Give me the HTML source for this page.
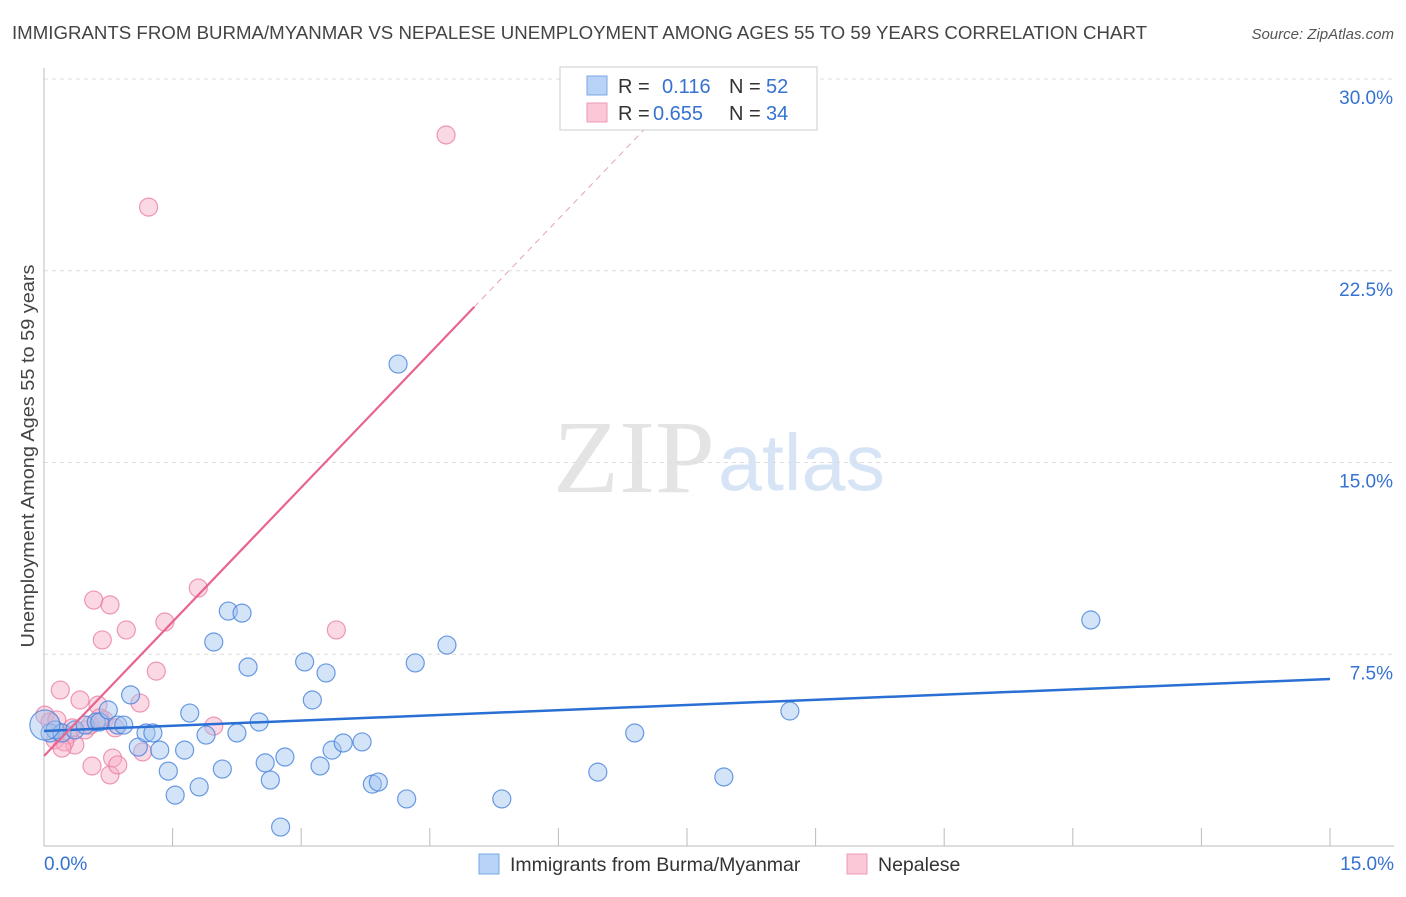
<!DOCTYPE html>
<html><head><meta charset="utf-8"><style>
body{margin:0;background:#fff;font-family:"Liberation Sans",sans-serif;}
</style></head><body>
<svg id="chart" width="1406" height="892" xmlns="http://www.w3.org/2000/svg" font-family="Liberation Sans, sans-serif">
<text x="12" y="39" font-size="18" fill="#444" textLength="1135" lengthAdjust="spacingAndGlyphs">IMMIGRANTS FROM BURMA/MYANMAR VS NEPALESE UNEMPLOYMENT AMONG AGES 55 TO 59 YEARS CORRELATION CHART</text>
<text x="1394" y="39" font-size="15" fill="#555" font-style="italic" text-anchor="end">Source: ZipAtlas.com</text>
<text x="34" y="456" font-size="18.5" fill="#444" text-anchor="middle" textLength="383" lengthAdjust="spacingAndGlyphs" transform="rotate(-90 34 456)">Unemployment Among Ages 55 to 59 years</text>
<g>
<text x="553" y="492" font-size="104" fill="#e4e4e4" style="font-family:'Liberation Serif',serif" textLength="162" lengthAdjust="spacingAndGlyphs">ZIP</text>
<text x="718" y="490" font-size="80" fill="#d6e4f6" textLength="167" lengthAdjust="spacingAndGlyphs">atlas</text>
</g>
<g id="grid"></g>
<g id="axes"></g>
<g id="marks"></g>
<g>
<rect x="560" y="67" width="257" height="63" fill="#fff" stroke="#ccc"/>
<rect x="587" y="76" width="20" height="19" fill="#b8d3f5" stroke="#7aa8e6"/>
<rect x="587" y="103" width="20" height="19" fill="#fac8d7" stroke="#ef9ab5"/>
<text x="618" y="93" font-size="20" fill="#333">R =</text>
<text x="662" y="93" font-size="20" fill="#3572d1">0.116</text>
<text x="729" y="93" font-size="20" fill="#333">N =</text>
<text x="766" y="93" font-size="20" fill="#3572d1">52</text>
<text x="618" y="120" font-size="20" fill="#333">R =</text>
<text x="653" y="120" font-size="20" fill="#3572d1">0.655</text>
<text x="729" y="120" font-size="20" fill="#333">N =</text>
<text x="766" y="120" font-size="20" fill="#3572d1">34</text>
</g>
<g>
<rect x="479" y="854" width="20" height="20" fill="#b8d3f5" stroke="#7aa8e6"/>
<text x="510" y="871" font-size="19.5" fill="#333">Immigrants from Burma/Myanmar</text>
<rect x="847" y="854" width="20" height="20" fill="#fac8d7" stroke="#ef9ab5"/>
<text x="878" y="871" font-size="19.5" fill="#333">Nepalese</text>
</g>
</svg>
<script>
const xTicks=[0,1.5,3,4.5,6,7.5,9,10.5,12,13.5,15];
const yTicks=[7.5,15,22.5,30];
const yTickLabels=["7.5%","15.0%","22.5%","30.0%"];
const burmaX=[0.07,0.13,0.21,0.36,0.48,0.61,0.65,0.75,0.86,0.93,1.01,1.10,1.19,1.27,1.35,1.45,1.53,1.64,1.70,1.81,1.89,1.98,2.08,2.15,2.25,2.31,2.38,2.51,2.58,2.64,2.76,2.81,3.13,3.04,3.22,3.29,3.36,3.49,3.71,3.83,3.90,4.13,4.23,4.33,4.70,5.34,6.46,6.89,7.93,8.70,12.21,0.01];
const burmaY=[4.42,4.54,4.42,4.54,4.73,4.85,4.85,5.32,4.73,4.73,5.91,3.87,4.42,4.42,3.75,2.93,1.99,3.75,5.20,2.31,4.34,7.98,3.01,9.19,4.42,9.11,7.00,4.85,3.25,2.58,0.74,3.48,5.71,7.20,3.13,6.77,3.75,4.03,4.07,2.42,2.50,18.85,1.84,7.16,7.86,1.84,2.89,4.42,2.70,5.28,8.84,4.73];
const nepalX=[0.01,0.07,0.15,0.19,0.28,0.33,0.36,0.42,0.48,0.56,0.58,0.63,0.68,0.70,0.77,0.77,0.80,0.86,0.96,1.12,1.15,1.22,1.31,1.41,1.80,1.98,3.41,4.69,0.13,0.24,0.54,0.83,0.21,0.65];
const nepalY=[5.12,4.85,4.93,6.10,4.34,4.62,3.95,5.71,4.54,3.13,9.62,5.51,8.06,4.93,2.78,9.43,3.44,3.17,8.45,5.59,3.68,24.99,6.84,8.76,10.09,4.69,8.45,27.81,4.15,4.07,4.73,4.62,3.83,5.01];
const burmaTrend=[4.50,6.53];
const nepalTrend=[3.52,3.50];
const NS="http://www.w3.org/2000/svg";
const X=v=>44+v*1286/15, Y=v=>846-v*767/30;
function mk(tag,a,p){const e=document.createElementNS(NS,tag);for(const k in a)e.setAttribute(k,a[k]);p.appendChild(e);return e;}
const grid=document.getElementById('grid'),axes=document.getElementById('axes'),marks=document.getElementById('marks');
yTicks.forEach((t,i)=>{
 const l=mk('line',{x1:44,x2:1394,y1:Y(t),y2:Y(t),stroke:'#ddd','stroke-dasharray':'4,4'},grid);
 
 
 const tx=mk('text',{x:1393,y:Y(t)+25,'font-size':19,fill:'#3572d1','text-anchor':'end'},axes);
 tx.textContent=yTickLabels[i];
 
 
});
const ya=mk('line',{x1:44,x2:44,y1:68,y2:846,stroke:'#bbb'},axes);


const xa=mk('line',{x1:44,x2:1394,y1:846,y2:846,stroke:'#bbb'},axes);


xTicks.forEach(t=>{
 const l=mk('line',{x1:X(t),x2:X(t),y1:828,y2:846,stroke:'#bbb'},axes);
 
 
});
[[0,"0.0%","start",44],[15,"15.0%","end",1394]].forEach(d=>{
 const tx=mk('text',{x:d[3],y:870,'font-size':19,fill:'#3572d1','text-anchor':d[2]},axes);
 tx.textContent=d[1];
 
 
});
nepalX.forEach((v,i)=>{
 const c=mk('circle',{cx:X(v),cy:Y(nepalY[i]),r:9,fill:'rgba(247,170,195,0.45)',stroke:'rgba(232,120,160,0.75)','stroke-width':1.2},marks);
 
 
});
burmaX.forEach((v,i)=>{
 const c=mk('circle',{cx:X(v),cy:Y(burmaY[i]),r:i==burmaX.length-1?15:9,fill:'rgba(160,195,240,0.45)',stroke:'rgba(70,130,220,0.8)','stroke-width':1.2},marks);
 
 
});
const bt=mk('line',{x1:X(0),y1:Y(burmaTrend[0]),x2:X(15),y2:Y(burmaTrend[1]),stroke:'#2a6fd4','stroke-width':2.5},marks);


const xEnd=5.02, xTop=(30-nepalTrend[0])/nepalTrend[1];
const pt=mk('line',{x1:X(0),y1:Y(nepalTrend[0]),x2:X(xEnd),y2:Y(nepalTrend[0]+nepalTrend[1]*xEnd),stroke:'#e8648f','stroke-width':2.2},marks);


const pd=mk('line',{x1:X(xEnd),y1:Y(nepalTrend[0]+nepalTrend[1]*xEnd),x2:X(xTop),y2:Y(30),stroke:'#e8a0b8','stroke-width':1,'stroke-dasharray':'6,5'},marks);


</script>
</body></html>
